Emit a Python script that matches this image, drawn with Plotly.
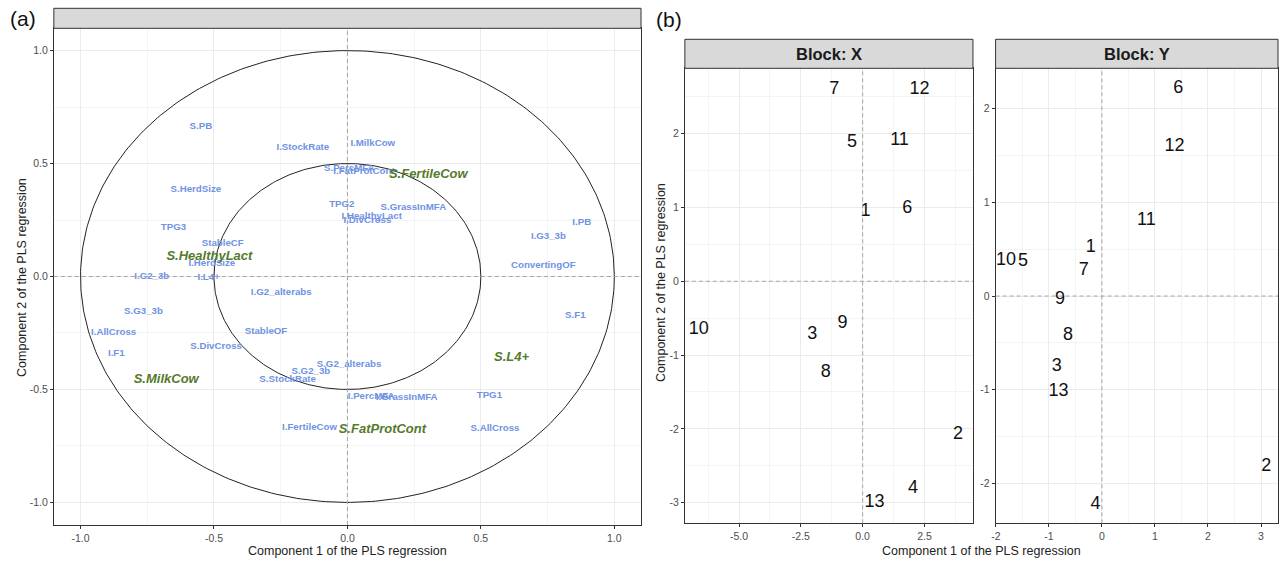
import numpy as np
import plotly.graph_objects as go

W, H = 1279, 562

# ---------------- data: panel (a) correlation circle ----------------
blue_names = ["S.PB", "I.StockRate", "I.MilkCow", "S.PercMFA", "I.FatProtCont", "S.HerdSize",
              "TPG2", "S.GrassInMFA", "I.HealthyLact", "I.DivCross", "TPG3", "StableCF",
              "I.HerdSize", "I.G2_3b", "I.L4+", "I.PB", "I.G3_3b", "ConvertingOF",
              "I.G2_alterabs", "S.G3_3b", "I.AllCross", "StableOF", "S.DivCross", "I.F1",
              "S.F1", "S.G2_alterabs", "S.G2_3b", "S.StockRate", "I.PercMFA", "I.GrassInMFA",
              "TPG1", "I.FertileCow", "S.AllCross"]
blue_x = [-0.549, -0.167, 0.095, 0.007, 0.062, -0.568,
          -0.021, 0.247, 0.091, 0.075, -0.652, -0.467,
          -0.508, -0.733, -0.520, 0.878, 0.753, 0.734,
          -0.248, -0.764, -0.876, -0.305, -0.492, -0.866,
          0.854, 0.006, -0.137, -0.224, 0.089, 0.222,
          0.532, -0.142, 0.553]
blue_y = [0.665, 0.569, 0.588, 0.476, 0.466, 0.385,
          0.319, 0.307, 0.264, 0.249, 0.218, 0.146,
          0.058, 0.001, -0.006, 0.237, 0.178, 0.050,
          -0.072, -0.156, -0.249, -0.245, -0.308, -0.341,
          -0.171, -0.392, -0.419, -0.456, -0.530, -0.534,
          -0.527, -0.667, -0.674]

green_names = ["S.HealthyLact", "S.FertileCow", "S.MilkCow", "S.L4+", "S.FatProtCont"]
green_x = [-0.517, 0.303, -0.679, 0.615, 0.131]
green_y = [0.087, 0.451, -0.456, -0.360, -0.677]

circle_radii = [1.0, 0.5]

# ---------------- data: panel (b) individuals ----------------
ind_labels = ["1", "2", "3", "4", "5", "6", "7", "8", "9", "10", "11", "12", "13"]
blockX_x = [0.12, 3.86, -2.04, 2.04, -0.43, 1.80, -1.15, -1.49, -0.82, -6.63, 1.49, 2.30, 0.48]
blockX_y = [0.94, -2.07, -0.72, -2.81, 1.88, 0.98, 2.60, -1.24, -0.57, -0.65, 1.91, 2.60, -3.00]
blockY_x = [-0.21, 3.10, -0.85, -0.12, -1.49, 1.44, -0.34, -0.64, -0.79, -1.81, 0.84, 1.37, -0.82]
blockY_y = [0.52, -1.82, -0.75, -2.22, 0.37, 2.21, 0.27, -0.42, -0.04, 0.38, 0.81, 1.60, -1.02]

# tick values
a_ticks = [-1.0, -0.5, 0.0, 0.5, 1.0]
a_ticktext = ["-1.0", "-0.5", "0.0", "0.5", "1.0"]
a_minor = [-0.75, -0.25, 0.25, 0.75]
bx_xticks = [-5.0, -2.5, 0.0, 2.5]
bx_xticktext = ["-5.0", "-2.5", "0.0", "2.5"]
bx_xminor = [-6.25, -3.75, -1.25, 1.25, 3.75]
bx_yticks = [-3, -2, -1, 0, 1, 2]
bx_yminor = [-2.5, -1.5, -0.5, 0.5, 1.5, 2.5]
by_xticks = [-2, -1, 0, 1, 2, 3]
by_xminor = [-1.5, -0.5, 0.5, 1.5, 2.5]
by_yticks = [-2, -1, 0, 1, 2]
by_yminor = [-1.5, -0.5, 0.5, 1.5]

# ---------------- styling ----------------
FONT = "Liberation Sans"
BLUE = "#6f93e4"
GREEN = "#557a2b"
GRID = "#ebebeb"
MINOR = "#f4f4f4"
BORDER = "#333333"
TICKFONT = dict(family=FONT, size=10.5, color="#4d4d4d")


def xd(a, b):
    return [a / W, b / W]


def yd(top, bottom):
    return [1 - bottom / H, 1 - top / H]


fig = go.Figure()

# circles
theta = np.linspace(0, 2 * np.pi, 400)
for r in circle_radii:
    fig.add_trace(go.Scatter(x=r * np.cos(theta), y=r * np.sin(theta), mode="lines",
                             line=dict(color="#222222", width=1), xaxis="x", yaxis="y",
                             hoverinfo="skip"))

fig.add_trace(go.Scatter(x=blue_x, y=blue_y, text=blue_names, mode="text",
                         textposition="middle center",
                         textfont=dict(family=FONT, size=9.7, color=BLUE, weight="bold"),
                         xaxis="x", yaxis="y", cliponaxis=False))
fig.add_trace(go.Scatter(x=green_x, y=green_y, text=green_names, mode="text",
                         textposition="middle center",
                         textfont=dict(family=FONT, size=13, color=GREEN, weight="bold",
                                       style="italic"),
                         xaxis="x", yaxis="y", cliponaxis=False))

fig.add_trace(go.Scatter(x=blockX_x, y=blockX_y, text=ind_labels, mode="text",
                         textposition="middle center",
                         textfont=dict(family=FONT, size=18, color="#111111"),
                         xaxis="x2", yaxis="y2", cliponaxis=False))
fig.add_trace(go.Scatter(x=blockY_x, y=blockY_y, text=ind_labels, mode="text",
                         textposition="middle center",
                         textfont=dict(family=FONT, size=18, color="#111111"),
                         xaxis="x3", yaxis="y3", cliponaxis=False))


def axis(domain, rng, ticks, ticktext, minor, anchor):
    return dict(domain=domain, range=rng, tickmode="array", tickvals=ticks, ticktext=ticktext,
                showgrid=True, gridcolor=GRID, gridwidth=1,
                minor=dict(tickmode="array", tickvals=minor, showgrid=True,
                           gridcolor=MINOR, gridwidth=1, ticks=""),
                zeroline=False, showline=True, mirror=True, linecolor=BORDER, linewidth=1,
                ticks="outside", ticklen=3, tickcolor=BORDER, tickwidth=1,
                tickfont=TICKFONT, anchor=anchor, fixedrange=True)


fig.update_layout(
    width=W, height=H, margin=dict(l=0, r=0, t=0, b=0),
    paper_bgcolor="white", plot_bgcolor="white", showlegend=False, hovermode=False,
    xaxis=axis(xd(50, 639), [-1.1, 1.1], a_ticks, a_ticktext, a_minor, "y"),
    yaxis=axis(yd(28, 525), [-1.1, 1.1], a_ticks, a_ticktext, a_minor, "x"),
    xaxis2=axis(xd(683, 972), [-7.19, 4.46], bx_xticks, bx_xticktext, bx_xminor, "y2"),
    yaxis2=axis(yd(68.3, 523.3), [-3.28, 2.886], bx_yticks, [str(v) for v in bx_yticks],
                bx_yminor, "x2"),
    xaxis3=axis(xd(994.7, 1278), [-2.005, 3.32], by_xticks, [str(v) for v in by_xticks],
                by_xminor, "y3"),
    yaxis3=axis(yd(68.3, 523.3), [-2.424, 2.429], by_yticks, [str(v) for v in by_yticks],
                by_yminor, "x3"),
)

# dashed reference lines at zero
shapes = []
for xa, ya in [("x", "y"), ("x2", "y2"), ("x3", "y3")]:
    shapes.append(dict(type="line", xref=xa, yref=ya + " domain", x0=0, x1=0, y0=0, y1=1,
                       line=dict(color="#a6a6a6", width=1, dash="4px,3px"), layer="above"))
    shapes.append(dict(type="line", xref=xa + " domain", yref=ya, x0=0, x1=1, y0=0, y1=0,
                       line=dict(color="#a6a6a6", width=1, dash="4px,3px"), layer="above"))

# strips
strips = [(50, 639, 8.3, 28.3, ""), (683, 972, 39.3, 68.3, "Block: X"),
          (994.7, 1278, 39.3, 68.3, "Block: Y")]
annotations = []
for x0, x1, t, b, lab in strips:
    shapes.append(dict(type="rect", xref="paper", yref="paper", x0=x0 / W, x1=x1 / W,
                       y0=1 - b / H, y1=1 - t / H, fillcolor="#d9d9d9",
                       line=dict(color=BORDER, width=1), layer="above"))
    if lab:
        annotations.append(dict(x=(x0 + x1) / 2 / W, y=1 - (t + b) / 2 / H, xref="paper",
                                yref="paper", text=lab, showarrow=False,
                                font=dict(family=FONT, size=16.5, color="#1a1a1a", weight="bold"),
                                xanchor="center", yanchor="middle"))

TITLEFONT = dict(family=FONT, size=12.5, color="#222222")
annotations += [
    dict(x=344.5 / W, y=1 - 551 / H, text="Component 1 of the PLS regression", font=TITLEFONT),
    dict(x=18 / W, y=1 - 277 / H, text="Component 2 of the PLS regression", font=TITLEFONT,
         textangle=-90),
    dict(x=981 / W, y=1 - 551 / H, text="Component 1 of the PLS regression", font=TITLEFONT),
    dict(x=659 / W, y=1 - 282 / H, text="Component 2 of the PLS regression", font=TITLEFONT,
         textangle=-90),
    dict(x=19 / W, y=1 - 18 / H, text="(a)", font=dict(family=FONT, size=21, color="#111111")),
    dict(x=667 / W, y=1 - 19 / H, text="(b)", font=dict(family=FONT, size=21, color="#111111")),
]
for a in annotations[-6:]:
    a.update(xref="paper", yref="paper", showarrow=False, xanchor="center", yanchor="middle")

fig.update_layout(shapes=shapes, annotations=annotations)

post = ("document.documentElement.style.margin='0';document.documentElement.style.padding='0';"
        "document.documentElement.style.overflow='hidden';"
        "document.body.style.margin='0';document.body.style.padding='0';"
        "document.body.style.overflow='hidden';")
fig.write_html("out.html", config={"displayModeBar": False, "staticPlot": True},
               post_script=post)
